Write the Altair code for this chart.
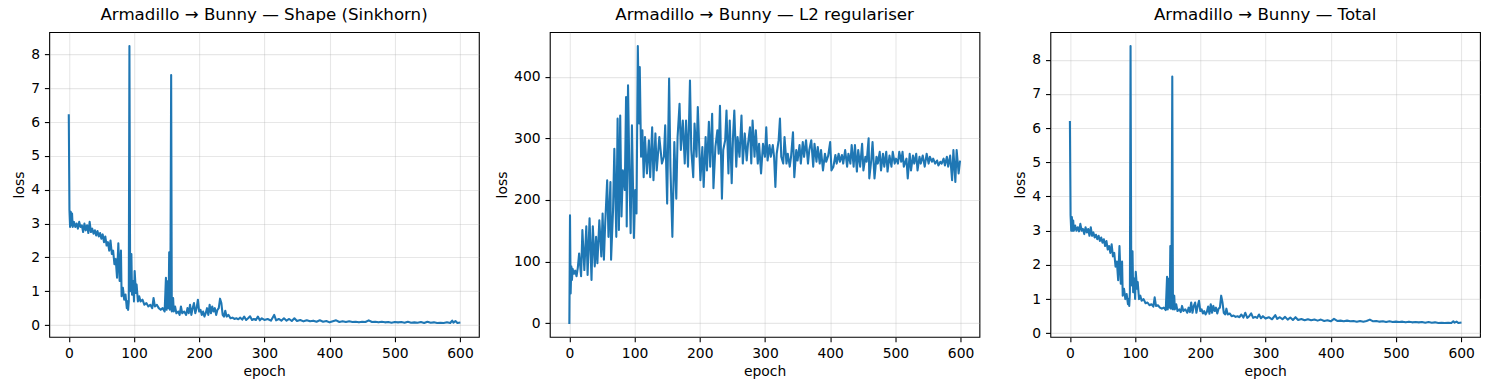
import altair as alt
import pandas as pd

# ---------------- data ----------------
X_TICKS = [0, 100, 200, 300, 400, 500, 600]
Y_TICKS_SHAPE = [0, 1, 2, 3, 4, 5, 6, 7, 8]
Y_TICKS_L2 = [0, 100, 200, 300, 400]
Y_TICKS_TOTAL = [0, 1, 2, 3, 4, 5, 6, 7, 8]

TITLE_SHAPE = "Armadillo \u2192 Bunny \u2014 Shape (Sinkhorn)"
TITLE_L2 = "Armadillo \u2192 Bunny \u2014 L2 regulariser"
TITLE_TOTAL = "Armadillo \u2192 Bunny \u2014 Total"

# epochs shared by the Shape and Total curves
EPOCHS = [
    0, 1, 2, 3, 4, 5, 6, 8, 10, 12,
    14, 16, 18, 20, 22, 24, 26, 28, 30, 32,
    34, 36, 38, 40, 42, 44, 46, 48, 50, 52,
    54, 56, 58, 60, 62, 64, 66, 68, 70, 72,
    74, 76, 78, 80, 81, 83, 85, 87, 89, 90,
    91, 92, 93, 94, 95, 96, 97, 99, 100, 101,
    103, 104, 106, 108, 110, 113, 116, 119, 122, 125,
    128, 130, 132, 135, 138, 141, 144, 147, 149, 150,
    152, 153, 154, 155, 156, 157, 158, 160, 161, 163,
    165, 168, 170, 172, 174, 177, 180, 182, 184, 186,
    188, 190, 192, 194, 196, 198, 200, 202, 204, 206,
    208, 210, 212, 214, 216, 218, 220, 222, 224, 226,
    228, 230, 232, 234, 236, 238, 240, 242, 245, 248,
    251, 254, 257, 260, 263, 266, 269, 272, 275, 278,
    281, 284, 287, 290, 293, 296, 300, 305, 310, 315,
    318, 322, 326, 330, 334, 338, 342, 346, 350, 355,
    360, 365, 370, 375, 380, 385, 390, 395, 400, 405,
    410, 415, 420, 425, 430, 435, 440, 445, 450, 455,
    460, 465, 470, 475, 480, 485, 490, 495, 500, 505,
    510, 515, 520, 525, 530, 535, 540, 545, 550, 555,
    560, 565, 570, 575, 580, 585, 588, 590, 593, 596,
    599,
]

SHAPE_LOSS = [
    6.2, 3.4, 2.9, 3.35, 2.95, 3.3, 2.9, 3.05, 2.9, 3.0,
    2.85, 3.05, 2.9, 2.95, 2.75, 3.0, 2.8, 2.95, 2.72, 3.05,
    2.75, 2.85, 2.7, 2.8, 2.65, 2.78, 2.62, 2.72, 2.55, 2.68,
    2.45, 2.62, 2.35, 2.45, 2.2, 2.5, 2.1, 2.2, 1.8, 1.95,
    1.4, 2.42, 1.3, 2.2, 0.85, 1.1, 0.75, 0.9, 0.5, 0.7,
    0.45, 0.7, 8.25, 2.0, 1.0, 2.1, 0.9, 1.3, 0.7, 1.6,
    0.95, 1.2, 0.7, 0.85, 0.7, 0.75, 0.6, 0.65, 0.55, 0.6,
    0.5, 0.8, 0.55, 0.6, 0.5, 0.45, 0.5, 0.4, 1.4, 0.45,
    1.3, 0.5, 2.15, 0.45, 2.1, 7.39, 0.4, 0.8, 0.4, 0.55,
    0.35, 0.4, 0.3, 0.55, 0.35, 0.4, 0.3, 0.5, 0.35, 0.6,
    0.3, 0.5, 0.65, 0.35, 0.5, 0.75, 0.4, 0.45, 0.3, 0.4,
    0.25, 0.35, 0.5, 0.3, 0.6, 0.35, 0.55, 0.4, 0.5, 0.3,
    0.45, 0.5, 0.78, 0.65, 0.3, 0.25, 0.42, 0.25, 0.3, 0.2,
    0.22, 0.18, 0.2, 0.17, 0.22, 0.16, 0.25, 0.15, 0.2, 0.26,
    0.15, 0.18, 0.15, 0.25, 0.14, 0.2, 0.15, 0.18, 0.13, 0.3,
    0.14, 0.18, 0.13, 0.2, 0.13, 0.18, 0.12, 0.2, 0.12, 0.15,
    0.11, 0.14, 0.11, 0.13, 0.1, 0.14, 0.1, 0.12, 0.08, 0.11,
    0.14, 0.09, 0.11, 0.09, 0.11, 0.09, 0.1, 0.08, 0.1, 0.09,
    0.14, 0.09, 0.1, 0.08, 0.1, 0.08, 0.09, 0.07, 0.09, 0.08,
    0.09, 0.07, 0.1, 0.07, 0.08, 0.07, 0.09, 0.06, 0.1, 0.07,
    0.08, 0.06, 0.07, 0.06, 0.08, 0.06, 0.13, 0.07, 0.12, 0.06,
    0.07,
]

TOTAL_LOSS = [
    6.18, 3.45, 3.0, 3.4, 3.0, 3.3, 3.0, 3.15, 3.0, 3.1,
    2.98, 3.2, 3.0, 3.05, 2.9, 3.1, 2.95, 3.05, 2.85, 3.1,
    2.85, 2.95, 2.8, 2.88, 2.75, 2.85, 2.7, 2.8, 2.65, 2.75,
    2.55, 2.7, 2.45, 2.55, 2.35, 2.6, 2.25, 2.35, 1.95, 2.1,
    1.55, 2.55, 1.45, 2.1, 1.1, 1.3, 1.0, 1.15, 0.85, 1.0,
    0.8, 1.2, 8.4, 2.3, 1.4, 2.4, 1.2, 1.6, 1.0, 1.8,
    1.3, 1.5, 1.0, 1.1, 0.95, 1.0, 0.88, 0.9, 0.82, 0.85,
    0.78, 1.05, 0.8, 0.82, 0.75, 0.72, 0.75, 0.68, 1.65, 0.7,
    1.6, 0.75, 2.55, 0.72, 2.5, 7.51, 0.7, 1.1, 0.7, 0.85,
    0.65, 0.7, 0.62, 0.8, 0.65, 0.7, 0.6, 0.75, 0.62, 0.9,
    0.6, 0.8, 0.9, 0.6, 0.8, 0.95, 0.65, 0.7, 0.58, 0.65,
    0.55, 0.62, 0.78, 0.57, 0.85, 0.6, 0.8, 0.65, 0.75, 0.58,
    0.72, 0.75, 1.1, 0.9, 0.6, 0.55, 0.72, 0.55, 0.58, 0.5,
    0.52, 0.48, 0.5, 0.47, 0.55, 0.46, 0.6, 0.45, 0.5, 0.58,
    0.45, 0.48, 0.45, 0.55, 0.44, 0.5, 0.43, 0.47, 0.41, 0.53,
    0.42, 0.47, 0.41, 0.48, 0.4, 0.46, 0.39, 0.47, 0.39, 0.42,
    0.38, 0.41, 0.38, 0.4, 0.37, 0.4, 0.36, 0.38, 0.35, 0.42,
    0.36, 0.37, 0.35, 0.37, 0.35, 0.36, 0.34, 0.36, 0.34, 0.36,
    0.4, 0.35, 0.36, 0.34, 0.35, 0.33, 0.35, 0.33, 0.34, 0.33,
    0.34, 0.32, 0.34, 0.32, 0.33, 0.32, 0.33, 0.31, 0.33, 0.31,
    0.32, 0.3, 0.31, 0.3, 0.31, 0.3, 0.35, 0.31, 0.34, 0.3,
    0.31,
]

L2_EPOCHS = [
    0, 1, 2, 3, 4, 5, 7, 9, 11, 13,
    15, 18, 20, 23, 26, 28, 31, 34, 36, 39,
    41, 43, 46, 49, 51, 53, 55, 58, 60, 63,
    64, 67, 69, 72, 74, 76, 78, 80, 82, 85,
    87, 88, 90, 92, 94, 96, 99, 101, 103, 105,
    107, 108, 110, 112, 114, 116, 119, 122, 124, 127,
    129, 132, 134, 138, 142, 145, 147, 150, 153, 155,
    158, 161, 164, 166, 169, 171, 174, 177, 179, 182,
    185, 187, 190, 192, 195, 197, 201, 204, 206, 209,
    211, 214, 216, 219, 221, 224, 227, 229, 231, 234,
    236, 239, 241, 244, 246, 249, 251, 253, 256, 258,
    261, 264, 266, 269, 272, 274, 277, 279, 281, 284,
    286, 289, 291, 294, 297, 300, 302, 304, 307, 309,
    312, 314, 316, 318, 321, 323, 325, 328, 330, 333,
    335, 338, 340, 343, 345, 348, 350, 353, 355, 358,
    360, 363, 366, 368, 371, 374, 376, 379, 381, 384,
    386, 389, 392, 394, 397, 400, 402, 405, 408, 410,
    413, 415, 418, 420, 423, 426, 428, 431, 433, 436,
    438, 441, 443, 446, 449, 451, 454, 456, 459, 460,
    463, 465, 468, 471, 473, 476, 478, 481, 483, 486,
    488, 491, 494, 496, 499, 501, 504, 506, 509, 511,
    513, 517, 519, 522, 524, 527, 529, 532, 534, 537,
    539, 542, 545, 548, 551, 553, 556, 558, 561, 564,
    566, 569, 571, 574, 576, 579, 581, 584, 587, 589,
    592, 594, 597, 599,
]

L2_LOSS = [
    0, 175, 48, 92, 70, 88, 80, 85, 76, 90,
    113, 76, 151, 86, 157, 78, 170, 70, 157, 92,
    140, 97, 167, 108, 178, 103, 162, 232, 140, 229,
    103, 183, 283, 140, 332, 151, 337, 173, 248, 216,
    367, 157, 386, 248, 146, 321, 138, 216, 178, 450,
    324, 416, 270, 313, 237, 302, 243, 297, 237, 318,
    232, 308, 248, 302, 259, 270, 321, 194, 397, 254,
    140, 294, 202, 302, 356, 281, 329, 259, 329, 254,
    394, 281, 237, 324, 270, 351, 232, 286, 221, 302,
    248, 327, 254, 340, 219, 286, 313, 275, 353, 202,
    281, 297, 345, 243, 329, 227, 302, 345, 254, 302,
    270, 337, 259, 308, 264, 291, 318, 259, 329, 270,
    313, 259, 291, 243, 291, 270, 318, 264, 289, 270,
    289, 270, 221, 275, 297, 332, 270, 259, 302, 259,
    275, 254, 270, 310, 237, 281, 264, 289, 259, 294,
    270, 297, 259, 281, 297, 254, 291, 262, 286, 259,
    281, 248, 275, 262, 272, 294, 248, 254, 273, 259,
    275, 262, 273, 259, 281, 254, 275, 259, 289, 254,
    289, 246, 281, 254, 291, 248, 270, 262, 300, 235,
    264, 294, 235, 270, 259, 278, 248, 275, 254, 278,
    246, 272, 254, 278, 259, 267, 259, 278, 262, 278,
    254, 267, 235, 275, 248, 272, 259, 275, 248, 270,
    259, 272, 254, 275, 259, 270, 262, 267, 259, 264,
    256, 262, 259, 267, 256, 270, 254, 272, 232, 281,
    229, 281, 243, 262,
]

assert len(EPOCHS) == len(SHAPE_LOSS) == len(TOTAL_LOSS)
assert len(L2_EPOCHS) == len(L2_LOSS)

FONT = "DejaVu Sans"
BLUE = "#1f77b4"


def panel(epochs, values, title, yticks):
    df = pd.DataFrame({"epoch": epochs, "loss": values})
    x0, x1 = min(epochs), max(epochs)
    y0, y1 = min(values), max(values)
    xm = 0.05 * (x1 - x0)
    ym = 0.05 * (y1 - y0)
    return (
        alt.Chart(df)
        .mark_line(color=BLUE, strokeWidth=2.08, strokeJoin="round", strokeCap="square")
        .encode(
            x=alt.X(
                "epoch:Q",
                scale=alt.Scale(domain=[x0 - xm, x1 + xm], nice=False, zero=False),
                axis=alt.Axis(values=X_TICKS, title="epoch", format="d"),
            ),
            y=alt.Y(
                "loss:Q",
                scale=alt.Scale(domain=[y0 - ym, y1 + ym], nice=False, zero=False),
                axis=alt.Axis(values=yticks, title="loss", format="d"),
            ),
        )
        .properties(width=430, height=305, title=alt.TitleParams(text=title))
    )


chart = (
    alt.hconcat(
        panel(EPOCHS, SHAPE_LOSS, TITLE_SHAPE, Y_TICKS_SHAPE),
        panel(L2_EPOCHS, L2_LOSS, TITLE_L2, Y_TICKS_L2),
        panel(EPOCHS, TOTAL_LOSS, TITLE_TOTAL, Y_TICKS_TOTAL),
        spacing=71,
        bounds="flush",
    )
    .properties(padding={"left": 11.3, "top": 6, "right": 9, "bottom": 12}, background="white")
    .configure_view(stroke="black", strokeWidth=1.1)
    .configure_axis(
        labelFont=FONT,
        labelFontSize=13.9,
        labelColor="black",
        titleFont=FONT,
        titleFontSize=13.9,
        titleFontWeight="normal",
        titleColor="black",
        tickColor="black",
        tickSize=4.86,
        tickWidth=1.1,
        labelPadding=4.86,
        domain=False,
        grid=True,
        gridColor="#b0b0b0",
        gridOpacity=0.3,
        gridWidth=1.1,
        labelFlush=False,
        labelOverlap=False,
    )
    .configure_axisX(titlePadding=4)
    .configure_axisY(titlePadding=4.5)
    .configure_title(
        font=FONT,
        fontSize=16.67,
        fontWeight="normal",
        color="black",
        anchor="middle",
        frame="group",
        baseline="alphabetic",
        offset=8.3,
    )
)

chart.save("out.html", embed_options={"renderer": "svg", "actions": False})
